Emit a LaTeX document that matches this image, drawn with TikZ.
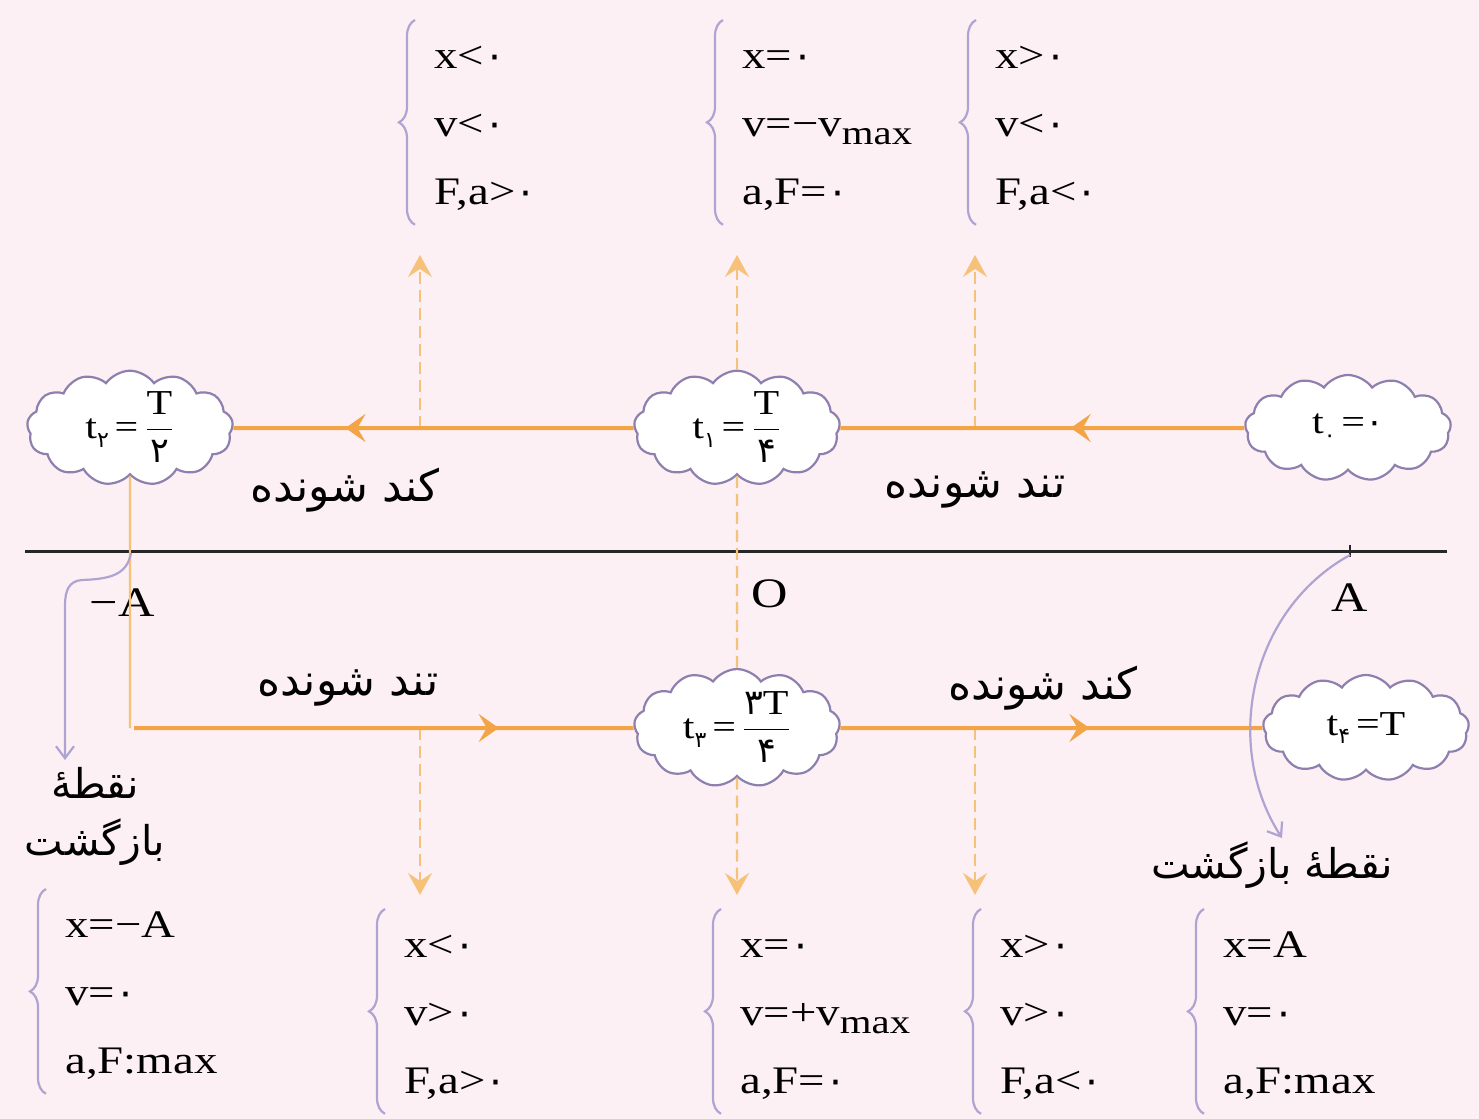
\documentclass[tikz,border=0pt]{standalone}
\usepackage{fontspec}
\setmainfont{Liberation Serif}[FakeStretch=1.2]
\newfontfamily\pfont[Script=Arabic]{DejaVu Sans}
\TeXXeTstate=1
\usetikzlibrary{shapes.symbols,decorations.pathreplacing,decorations.markings,arrows.meta}
\definecolor{bgc}{HTML}{FCF0F4}
\definecolor{orng}{HTML}{F2A446}
\definecolor{orngl}{HTML}{F6C27A}
\definecolor{cloudc}{HTML}{8E80AE}
\definecolor{lav}{HTML}{AFA3D2}
\newcommand{\pz}{{\pfont ۰}}
\newcommand{\subp}[1]{\raisebox{-0.55ex}{\fontsize{11}{11}\selectfont\pfont #1}}
\newcommand{\vmaxsub}{\raisebox{-0.45ex}{\fontsize{17}{17}\selectfont max}}
\newcommand{\pden}[1]{\mbox{\raisebox{0pt}[11pt][1pt]{\pfont #1}}}
\newcommand{\pfrac}[2]{$\displaystyle\frac{\mbox{#1}}{\pden{#2}}$}
\begin{document}
\begin{tikzpicture}[x=0.5pt,y=-0.5pt,
  cloudbox/.style={cloud, cloud puffs=13, cloud puff arc=110, cloud ignores aspect,
    draw=cloudc, fill=white, line width=1.1pt, inner sep=0pt,
    minimum width=103pt, minimum height=53pt, font=\fontsize{17.5}{20}\selectfont},
  mainline/.style={orng, line width=2pt},
  midarrow/.style={postaction={decorate}, decoration={markings,
    mark=at position #1 with {\arrow{Stealth[length=10pt,width=14pt,inset=4pt]}}}},
  dasharrow/.style={orngl, line width=1.1pt, dash pattern=on 6pt off 3pt,
    -{Stealth[length=11pt,width=12pt,inset=4pt]}},
  dashline/.style={orngl, line width=1.1pt, dash pattern=on 6pt off 3pt},
  infobox/.style={anchor=north west, align=left, inner sep=0pt,
    font=\fontsize{19.5}{34}\selectfont},
  bracestyle/.style={decorate, decoration={brace, amplitude=8pt}, lav, line width=1.1pt},
  lavarrow/.style={lav, line width=1.1pt, -{Straight Barb[length=6pt,width=9pt]}},
  plabel/.style={font=\fontsize{22}{26}\selectfont\pfont, inner sep=0pt},
  tlabel/.style={font=\fontsize{20.5}{26}\selectfont\pfont, inner sep=0pt},
  axlabel/.style={font=\fontsize{21}{24}\selectfont, inner sep=0pt}
]
\fill[bgc] (0,0) rectangle (1479,1119);
\useasboundingbox (0,0) rectangle (1479,1119);

% axis
\coordinate (axl) at (25,551);
\coordinate (axr) at (1447,551);
\draw[line width=1.5pt, black!85] (axl) -- (axr);
\draw[line width=1.2pt, black!85] (1350,545) -- (1350,557);
\node[axlabel] (lmA) at (122,603) {−A};
\node[axlabel] (lO) at (770,594) {O};
\node[axlabel] (lA) at (1350,598) {A};

% clouds
\node[cloudbox] (c0) at (1348,428) {t\subp{۰}\,=\pz};
\node[cloudbox] (c1) at (737,428) {t\subp{۱}\,=\,\pfrac{T}{۴}};
\node[cloudbox] (c2) at (130,428) {t\subp{۲}\,=\,\pfrac{T}{۲}};
\node[cloudbox] (c3) at (737,728) {t\subp{۳}\,=\,\pfrac{{\pfont ۳}T}{۴}};
\node[cloudbox] (c4) at (1366,728) {t\subp{۴}\,=T};

% coordinates on the lines
\coordinate (tA) at (420,428);
\coordinate (tB) at (975,428);
\coordinate (bA) at (420,728);
\coordinate (bB) at (975,728);
\coordinate (corner) at (130,728);
\coordinate (upA) at (420,255);
\coordinate (upB) at (737,255);
\coordinate (upC) at (975,255);
\coordinate (dnA) at (420,895);
\coordinate (dnB) at (737,895);
\coordinate (dnC) at (975,895);

% dashed verticals
\draw[dashline] (c1.south) -- (c3.north);
\draw[dasharrow] (tA) -- (upA);
\draw[dasharrow] (c1.north) -- (upB);
\draw[dasharrow] (tB) -- (upC);
\draw[dasharrow] (bA) -- (dnA);
\draw[dasharrow] (c3.south) -- (dnB);
\draw[dasharrow] (bB) -- (dnC);
\draw[orngl, line width=1.1pt] (c2.south) -- (corner);

% main orange lines
\draw[mainline, midarrow=0.43] (c0.west) -- (c1.east);
\draw[mainline, midarrow=0.72] (c1.west) -- (c2.east);
\draw[mainline, midarrow=0.73] ([xshift=2pt]corner) -- (c3.west);
\draw[mainline, midarrow=0.59] (c3.east) -- (c4.west);

% phase labels
\node[plabel] (p1) at (345,490) {\beginR کند شونده\endR};
\node[plabel] (p2) at (975,490) {\beginR تند شونده\endR};
\node[plabel] (p3) at (348,688) {\beginR تند شونده\endR};
\node[plabel] (p4) at (1043,688) {\beginR کند شونده\endR};

% turning points
\coordinate (tpL) at (131,553);
\coordinate (tpR) at (1350,555);
\node[tlabel] (n1) at (95,783) {\beginR نقطهٔ\endR};
\node[tlabel] (n2) at (95,842) {\beginR بازگشت\endR};
\node[tlabel] (n3) at (1272,865) {\beginR نقطهٔ بازگشت\endR};
\draw[lavarrow] (tpL) .. controls (127,575) and (110,579) .. (82,580)
   .. controls (69,581) and (65,590) .. (65,606) -- (65,760);
\draw[lavarrow] (tpR) .. controls (1250,610) and (1222,745) .. (1282,838);

% info boxes top
\node[infobox] (b1) at (434,20) {\strut x<\pz\\ v<\pz\\ F,a>\pz\strut};
\node[infobox] (b2) at (742,20) {\strut x=\pz\\ v=−v\vmaxsub\\ a,F=\pz\strut};
\node[infobox] (b3) at (995,20) {\strut x>\pz\\ v<\pz\\ F,a<\pz\strut};
% info boxes bottom
\node[infobox] (b4) at (65,889) {\strut x=−A\\ v=\pz\\ a,F:max\strut};
\node[infobox] (b5) at (404,909) {\strut x<\pz\\ v>\pz\\ F,a>\pz\strut};
\node[infobox] (b6) at (740,909) {\strut x=\pz\\ v=+v\vmaxsub\\ a,F=\pz\strut};
\node[infobox] (b7) at (1000,909) {\strut x>\pz\\ v>\pz\\ F,a<\pz\strut};
\node[infobox] (b8) at (1223,909) {\strut x=A\\ v=\pz\\ a,F:max\strut};

\foreach \b in {b1,b2,b3,b4,b5,b6,b7,b8}{
  \draw[bracestyle] ([xshift=-9.5pt]\b.south west) -- ([xshift=-9.5pt]\b.north west);
}
\end{tikzpicture}
\end{document}
